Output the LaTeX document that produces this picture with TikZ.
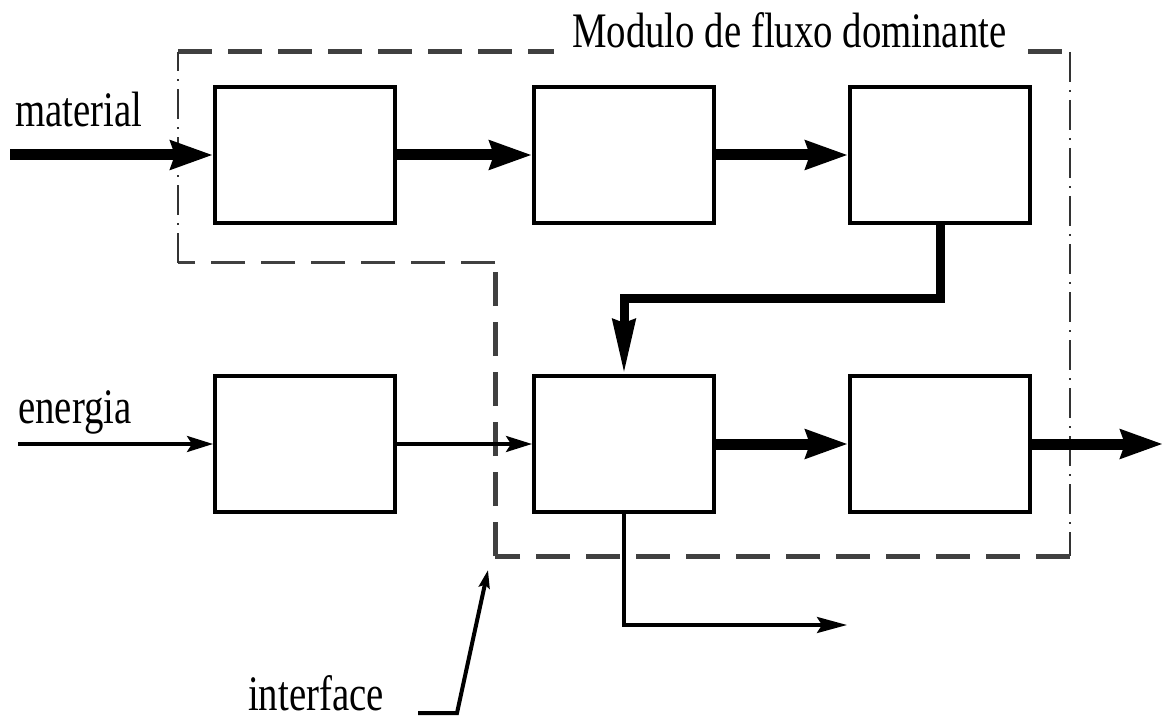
\documentclass[tikz,border=0pt]{standalone}
\usepackage{fontspec}
\setmainfont{Liberation Serif}
\usetikzlibrary{arrows.meta,calc}

\begin{document}
\begin{tikzpicture}[x=1pt,y=-1pt,
  blk/.style={draw, line width=4pt, minimum width=180pt, minimum height=136pt, inner sep=0pt},
  lbl/.style={inner sep=0pt, font=\fontsize{38.8}{46}\selectfont},
  heavy/.style={line width=11pt, -{Stealth[length=42pt,width=28pt,inset=4pt]}},
  feed/.style={line width=9pt, line join=miter, -{Stealth[length=54pt,width=22pt,inset=3pt]}},
  light/.style={line width=3.5pt, -{Stealth[length=26pt,width=16pt,inset=5pt]}},
  bound/.style={line width=5pt, draw=black!75, dash pattern=on 34pt off 16pt},
  boundthin/.style={line width=1.5pt, draw=black!80, dash pattern=on 30pt off 8pt on 2pt off 8pt},
]
\useasboundingbox (0,0) rectangle (1165,722);

% boundary of the dominant-flow module
\coordinate (f1) at (178,52);
\coordinate (f2) at (1070,52);
\coordinate (f3) at (1070,556);
\coordinate (f4) at (495,556);
\coordinate (f5) at (495,263);
\coordinate (f6) at (178,263);
\draw[bound] (f1) -- (f2);
\draw[boundthin] (f2) -- (f3);
\draw[bound] (f3) -- (f4);
\draw[bound] (f4) -- (f5);
\draw[bound, line width=3pt] (f5) -- (f6);
\draw[boundthin] (f6) -- (f1);

\node[lbl, anchor=base west, fill=white, inner xsep=18pt, inner ysep=10pt] (title) at (554,48)
  {\scalebox{1}[1.28]{Modulo de fluxo dominante}};

% process blocks
\node[blk] (A) at (305,155) {};
\node[blk] (B) at (624,155) {};
\node[blk] (C) at (940,155) {};
\node[blk] (D) at (305,444) {};
\node[blk] (E) at (624,444) {};
\node[blk] (F) at (940,444) {};

% inputs and outputs
\coordinate (matin) at (10,155);
\coordinate (enin) at (18,444);
\coordinate (out) at (1163,444);
\coordinate (bendE) at (624,298);
\coordinate (outE) at (847,625);

\node[lbl, anchor=base west] (mat) at (15,127) {\scalebox{1}[1.28]{material}};
\node[lbl, anchor=base west] (en) at (18,423) {\scalebox{1}[1.28]{energia}};
\node[lbl, anchor=base west] (itf) at (248,710) {\scalebox{1}[1.28]{interface}};

% material flow
\draw[heavy] (matin) -- (A.west);
\draw[heavy] (A.east) -- (B.west);
\draw[heavy] (B.east) -- (C.west);
\draw[feed] (C.south) |- (bendE) -- (E.north);
\draw[heavy] (E.east) -- (F.west);
\draw[heavy] (F.east) -- (out);

% energy flow
\draw[light] (enin) -- (D.west);
\draw[light] (D.east) -- (E.west);
\draw[light, -{Stealth[length=30pt,width=16pt,inset=5pt]}] (E.south) |- (outE);

% pointer to the interface
\coordinate (p1) at (418,713);
\coordinate (p2) at (457,713);
\coordinate (p3) at (488,570);
\draw[line width=4pt, line join=miter, -{Stealth[length=18pt,width=11pt,inset=3pt]}] (p1) -- (p2) -- (p3);
\end{tikzpicture}
\end{document}
